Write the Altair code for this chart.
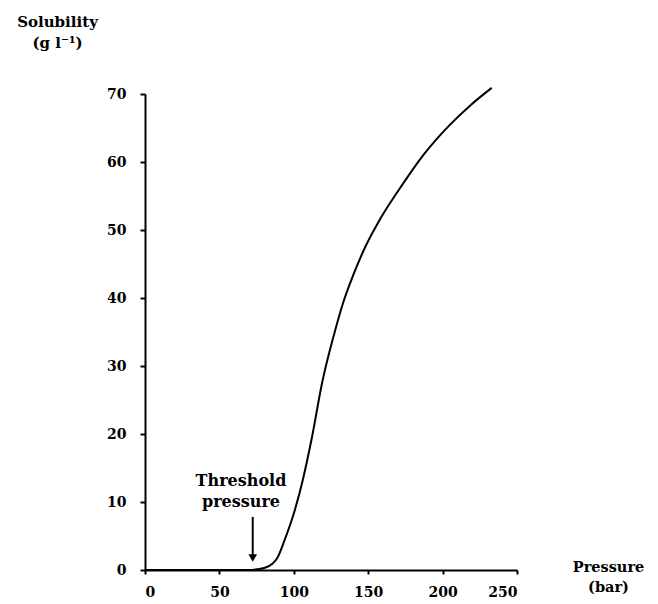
import altair as alt
import pandas as pd

# Curve
pressure = [0, 50, 70, 75, 80, 86, 89, 94, 100, 106, 112, 119, 127, 133, 140, 148, 158, 174, 187, 205, 219, 233]
solubility = [0, 0, 0, 0.1, 0.3, 1.0, 1.8, 4.5, 8.3, 13.2, 19.3, 27.5, 34.6, 39.2, 43.4, 47.5, 51.6, 57.0, 61.0, 65.5, 68.4, 70.9]

x_ticks = [0, 50, 100, 150, 200, 250]
y_ticks = [0, 10, 20, 30, 40, 50, 60, 70]

# Annotation (threshold pressure)
note_lines = ["Threshold", "pressure"]
note_x = [64.5, 64.5]
note_y = [13.1, 10.0]
arrow_x = [72.4]
arrow_top = [7.8]
arrow_bottom = [2.2]
arrow_head = [1.75]

FONT = "DejaVu Serif"

curve = pd.DataFrame({"p": pressure, "s": solubility})
notes = pd.DataFrame({"t": note_lines, "x": note_x, "y": note_y})
arrow = pd.DataFrame({"x": arrow_x, "y": arrow_top, "y2": arrow_bottom, "h": arrow_head})

xscale = alt.Scale(domain=[0, 250], nice=False)
yscale = alt.Scale(domain=[0, 70], nice=False)

line = alt.Chart(curve).mark_line(color="black", strokeWidth=2, interpolate="monotone").encode(
    x=alt.X("p:Q", scale=xscale,
            axis=alt.Axis(values=x_ticks, title=["Pressure", "(bar)"], grid=False,
                          domainColor="black", domainWidth=2, tickColor="black", tickWidth=2,
                          tickSize=4, labelPadding=11, labelFont=FONT, labelFontWeight="bold",
                          labelFontSize=14, labelColor="black",
                          titleFont=FONT, titleFontWeight="bold", titleFontSize=14.5,
                          titleColor="black", titleX=463, titleY=-10, titleAlign="center",
                          titleBaseline="top", titleAngle=0, titleLineHeight=20)),
    y=alt.Y("s:Q", scale=yscale,
            axis=alt.Axis(values=y_ticks, title=["Solubility", "(g l⁻¹)"], grid=False,
                          domainColor="black", domainWidth=2, tickColor="black", tickWidth=2,
                          tickSize=5, labelPadding=14, labelFont=FONT, labelFontWeight="bold",
                          labelFontSize=14, labelColor="black",
                          titleFont=FONT, titleFontWeight="bold", titleFontSize=15,
                          titleColor="black", titleX=-88, titleY=-80, titleAlign="center",
                          titleBaseline="top", titleAngle=0, titleLineHeight=21)),
)

text = alt.Chart(notes).mark_text(font=FONT, fontWeight="bold", fontSize=16, color="black",
                                  align="center", baseline="middle").encode(
    x=alt.X("x:Q", scale=xscale), y=alt.Y("y:Q", scale=yscale), text="t:N")

shaft = alt.Chart(arrow).mark_rule(color="black", strokeWidth=2).encode(
    x=alt.X("x:Q", scale=xscale), y=alt.Y("y:Q", scale=yscale), y2="y2:Q")

head = alt.Chart(arrow).mark_point(shape="triangle-down", filled=True, color="black",
                                   size=75, opacity=1).encode(
    x=alt.X("x:Q", scale=xscale), y=alt.Y("h:Q", scale=yscale))

chart = alt.layer(line, text, shaft, head).properties(
    width=372, height=476,
    autosize=alt.AutoSizeParams(type="none"),
    padding={"left": 137, "top": 86, "right": 133, "bottom": 30},
).configure(background="white", view=alt.ViewConfig(stroke=None))

chart.save("out.html", embed_options={"renderer": "svg", "actions": False})
